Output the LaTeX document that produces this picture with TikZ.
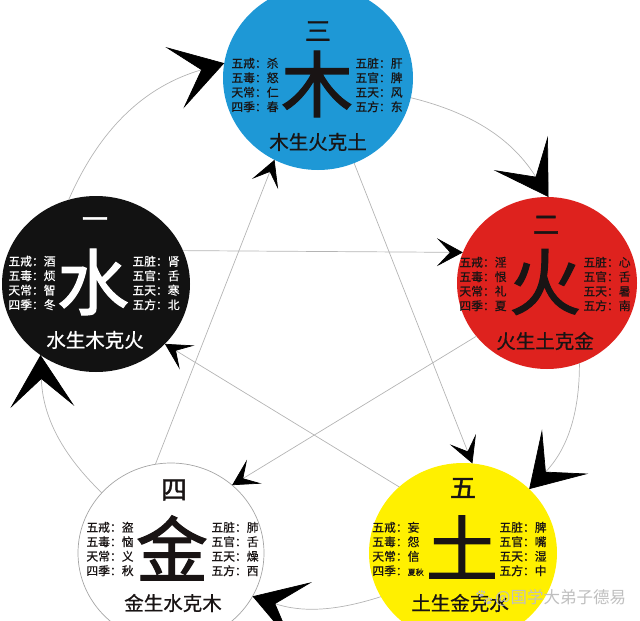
\documentclass[tikz,border=0pt]{standalone}
\usepackage{fontspec}
\setmainfont{Noto Sans CJK SC}
\newfontfamily\medfont[FakeBold=0.6]{Noto Sans CJK SC}
\newfontfamily\heavyfont[FakeBold=1.6]{Noto Sans CJK SC}
\newfontfamily\emojifont{Noto Emoji}
\usetikzlibrary{arrows.meta,shapes.geometric}
\definecolor{woodblue}{RGB}{30,152,214}
\definecolor{firered}{RGB}{222,34,30}
\definecolor{earthyellow}{RGB}{255,240,0}
\definecolor{waterblack}{RGB}{18,18,18}
\definecolor{metalgray}{RGB}{165,165,165}
\definecolor{linegray}{RGB}{180,180,180}
\definecolor{inkdark}{RGB}{25,20,20}
\begin{document}
\begin{tikzpicture}[x=1pt,y=-1pt,
  elem/.style={ellipse, inner sep=0pt, outer sep=0pt},
  numch/.style={inner sep=0pt, font=\heavyfont\fontsize{26}{26}\selectfont},
  bigch/.style={inner sep=0pt, font=\heavyfont\fontsize{72}{72}\selectfont},
  lst/.style={inner sep=0pt, align=left, font=\medfont\fontsize{11.8}{14.5}\selectfont},
  motto/.style={inner sep=0pt, font=\medfont\fontsize{19.5}{19.5}\selectfont},
  gen/.style={draw=linegray, line width=0.7pt,
    -{Stealth[length=52pt,width=64pt,inset=28pt,color=black]}},
  ctrl/.style={draw=linegray, line width=0.7pt,
    -{Stealth[length=26pt,width=28pt,inset=13pt,color=black]}}]
\useasboundingbox (0,0) rectangle (640,621);

% circles
\node[elem, fill=woodblue, minimum width=190pt, minimum height=184pt] (wood) at (318,78) {};
\node[elem, fill=firered, minimum width=180pt, minimum height=172pt] (fire) at (547,283) {};
\node[elem, fill=waterblack, minimum width=188pt, minimum height=176pt] (water) at (96,284) {};
\node[elem, fill=white, draw=metalgray, line width=0.7pt, minimum width=186pt, minimum height=180pt] (metal) at (171,553) {};
\node[elem, fill=earthyellow, minimum width=188pt, minimum height=180pt] (earth) at (463,553) {};

% wood texts
\begin{scope}[text=inkdark]
\node[numch] (woodnum) at (318,31) {三};
\node[bigch] (woodbig) at (317,84) {木};
\node[lst] (woodl) at (255,85) {五戒：杀\\五毒：怒\\天常：仁\\四季：春};
\node[lst] (woodr) at (379,85) {五脏：肝\\五官：脾\\五天：风\\五方：东};
\node[motto] (woodm) at (318,142) {木生火克土};
\end{scope}

% fire texts
\begin{scope}[text=inkdark]
\node[numch] (firenum) at (546,225) {二};
\node[bigch] (firebig) at (545,282) {火};
\node[lst] (firel) at (483,284) {五戒：淫\\五毒：恨\\天常：礼\\四季：夏};
\node[lst] (firer) at (607,284) {五脏：心\\五官：舌\\五天：暑\\五方：南};
\node[motto] (firem) at (545,341) {火生土克金};
\end{scope}

% water texts
\begin{scope}[text=white]
\node[numch] (waternum) at (95,223) {一};
\node[bigch] (waterbig) at (93,282) {水};
\node[lst] (waterl) at (32,283) {五戒：酒\\五毒：烦\\天常：智\\四季：冬};
\node[lst] (waterr) at (156,283) {五脏：肾\\五官：舌\\五天：寒\\五方：北};
\node[motto] (waterm) at (95,340) {水生木克火};
\end{scope}

% metal texts
\begin{scope}[text=inkdark]
\node[numch] (metalnum) at (174,490) {四};
\node[bigch] (metalbig) at (172,548) {金};
\node[lst] (metall) at (110,549) {五戒：盗\\五毒：恼\\天常：义\\四季：秋};
\node[lst] (metalr) at (235,549) {五脏：肺\\五官：舌\\五天：燥\\五方：西};
\node[motto] (metalm) at (173,603) {金生水克木};
\end{scope}

% earth texts
\begin{scope}[text=inkdark]
\node[numch] (earthnum) at (463,488) {五};
\node[bigch] (earthbig) at (462,547) {土};
\node[lst] (earthl) at (398,549) {五戒：妄\\五毒：怨\\天常：信\\四季：{\fontsize{8}{8}\selectfont 夏秋}};
\node[lst] (earthr) at (523,549) {五脏：脾\\五官：嘴\\五天：湿\\五方：中};
\node[motto] (earthm) at (460,603) {土生金克水};
\end{scope}

% generating cycle (outer arcs)
\draw[gen] (water.108) to[bend left=25] (wood.171);
\draw[gen] (wood.-12) to[bend left=22] (fire.89);
\draw[gen] (fire.-68) to[bend left=22] (earth.44);
\draw[gen] (earth.-152) to[bend left=18] (metal.-28);
\draw[gen] (metal.139) to[bend left=22] (water.-128);

% controlling cycle (star)
\draw[ctrl] (water.21) -- (fire.160);
\draw[ctrl] (fire.-143) -- (metal.48);
\draw[ctrl] (metal.100) -- (wood.-118);
\draw[ctrl] (wood.-67) -- (earth.84);
\draw[ctrl] (earth.134) -- (water.-41);

% watermark
\node[inner sep=0pt, text=gray!50, font=\fontsize{16.5}{16.5}\selectfont] (mark) at (550,598) {{\emojifont 🐾}@国学大弟子德易};
\end{tikzpicture}
\end{document}
